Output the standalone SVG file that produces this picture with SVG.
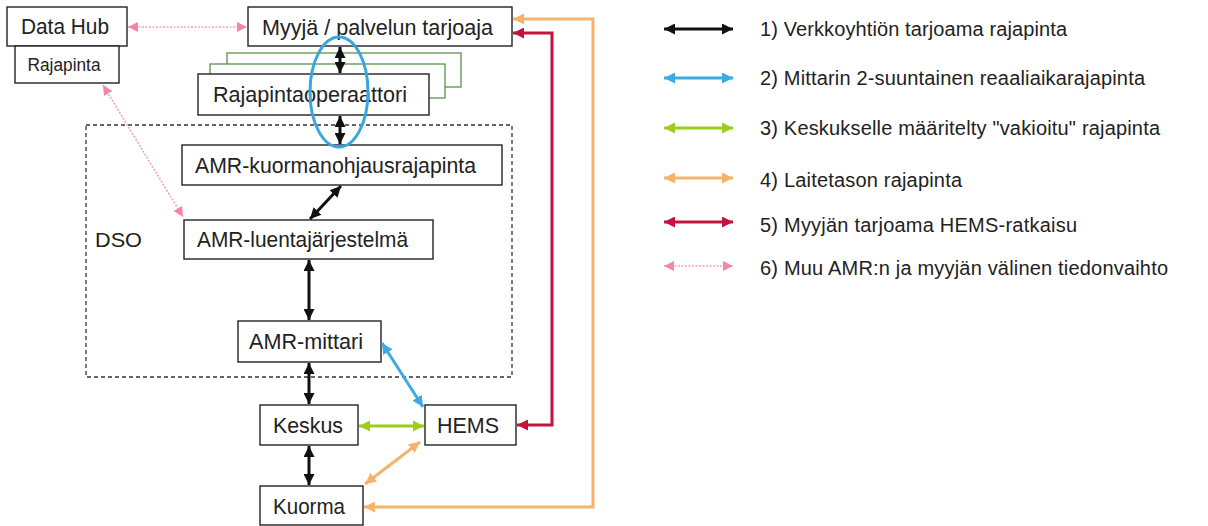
<svg xmlns="http://www.w3.org/2000/svg" width="1208" height="526" viewBox="0 0 1208 526">
<style>
.box{fill:#fff;stroke:#222;stroke-width:1.4}
.gbox{fill:#fff;stroke:#4b8a3c;stroke-width:1.2}
.t{font-family:"Liberation Sans",Arial,sans-serif;font-size:22px;fill:#222;text-anchor:middle}
.lt{font-family:"Liberation Sans",Arial,sans-serif;font-size:20px;fill:#222}
.c{fill:none;stroke-width:3}
.k{stroke:#111}
.b{stroke:#3fa9e2}
.g{stroke:#9ccc1c}
.o{stroke:#f6b36c}
.r{stroke:#c4123e}
.p{stroke:#f4a3b6;stroke-width:1.6;stroke-dasharray:2 1.5}
</style>
<defs>
<marker id="ak" viewBox="0 0 10 10" refX="10" refY="5" markerUnits="userSpaceOnUse" markerWidth="11" markerHeight="11" orient="auto-start-reverse"><path d="M0,0 L10,5 L0,10 z" fill="#111"/></marker>
<marker id="ab" viewBox="0 0 10 10" refX="10" refY="5" markerUnits="userSpaceOnUse" markerWidth="11" markerHeight="11" orient="auto-start-reverse"><path d="M0,0 L10,5 L0,10 z" fill="#3fa9e2"/></marker>
<marker id="ag" viewBox="0 0 10 10" refX="10" refY="5" markerUnits="userSpaceOnUse" markerWidth="11" markerHeight="11" orient="auto-start-reverse"><path d="M0,0 L10,5 L0,10 z" fill="#9ccc1c"/></marker>
<marker id="ao" viewBox="0 0 10 10" refX="10" refY="5" markerUnits="userSpaceOnUse" markerWidth="11" markerHeight="11" orient="auto-start-reverse"><path d="M0,0 L10,5 L0,10 z" fill="#f6b36c"/></marker>
<marker id="ar" viewBox="0 0 10 10" refX="10" refY="5" markerUnits="userSpaceOnUse" markerWidth="11" markerHeight="11" orient="auto-start-reverse"><path d="M0,0 L10,5 L0,10 z" fill="#c4123e"/></marker>
<marker id="ap" viewBox="0 0 10 10" refX="10" refY="5" markerUnits="userSpaceOnUse" markerWidth="10" markerHeight="10" orient="auto-start-reverse"><path d="M0,0 L10,5 L0,10 z" fill="#f3879f"/></marker>
</defs>

<g id="dso">
<rect x="86" y="125" width="426" height="252" fill="none" stroke="#333" stroke-width="1.3" stroke-dasharray="4 3"/>
<text class="lt" x="95" y="247" style="font-size:21px" textLength="47" lengthAdjust="spacingAndGlyphs">DSO</text>
</g>

<g id="datahub"><rect class="box" x="7" y="7" width="120" height="39"/><text class="t" x="65" y="34" textLength="88" lengthAdjust="spacingAndGlyphs">Data Hub</text></g>
<g id="rajapinta"><rect class="box" x="15" y="46" width="104" height="37"/><text class="t" x="64" y="71" style="font-size:17.5px" textLength="73" lengthAdjust="spacingAndGlyphs">Rajapinta</text></g>
<g id="myyja"><rect class="box" x="248" y="7" width="264" height="39"/><text class="t" x="377.5" y="34.5" textLength="231" lengthAdjust="spacingAndGlyphs">Myyjä / palvelun tarjoaja</text></g>
<g id="rajapintaoperaattori">
<rect class="gbox" x="227" y="53" width="234" height="34"/>
<rect class="gbox" x="210" y="64" width="235" height="34"/>
<rect class="box" x="198" y="74" width="231" height="41"/>
<text class="t" x="310" y="102" textLength="194" lengthAdjust="spacingAndGlyphs">Rajapintaoperaattori</text>
</g>
<g id="kuormanohjaus"><rect class="box" x="182" y="145" width="320" height="40"/><text class="t" x="335.5" y="172.5" textLength="281" lengthAdjust="spacingAndGlyphs">AMR-kuormanohjausrajapinta</text></g>
<g id="luenta"><rect class="box" x="184" y="220" width="249" height="39"/><text class="t" x="302.5" y="247" textLength="211" lengthAdjust="spacingAndGlyphs">AMR-luentajärjestelmä</text></g>
<g id="mittari"><rect class="box" x="238" y="321" width="143" height="41"/><text class="t" x="306" y="348.5" textLength="114" lengthAdjust="spacingAndGlyphs">AMR-mittari</text></g>
<g id="keskus"><rect class="box" x="260" y="405" width="98" height="40"/><text class="t" x="308" y="433" textLength="70" lengthAdjust="spacingAndGlyphs">Keskus</text></g>
<g id="hems"><rect class="box" x="425" y="405" width="91" height="40"/><text class="t" x="468" y="433" textLength="62" lengthAdjust="spacingAndGlyphs">HEMS</text></g>
<g id="kuorma"><rect class="box" x="260" y="486" width="103" height="39"/><text class="t" x="309" y="513.5" textLength="72" lengthAdjust="spacingAndGlyphs">Kuorma</text></g>

<ellipse id="highlight" cx="339" cy="92" rx="29" ry="55" fill="none" stroke="#3aa6df" stroke-width="3"/>

<g id="connectors">
<line class="c k" x1="340" y1="47" x2="340" y2="73" marker-start="url(#ak)" marker-end="url(#ak)"/>
<line class="c k" x1="340" y1="116" x2="340" y2="144" marker-start="url(#ak)" marker-end="url(#ak)"/>
<line class="c k" x1="341" y1="186" x2="310" y2="219" marker-start="url(#ak)" marker-end="url(#ak)"/>
<line class="c k" x1="309" y1="260" x2="309" y2="320" marker-start="url(#ak)" marker-end="url(#ak)"/>
<line class="c k" x1="309" y1="363" x2="309" y2="404" marker-start="url(#ak)" marker-end="url(#ak)"/>
<line class="c k" x1="309" y1="446" x2="309" y2="485" marker-start="url(#ak)" marker-end="url(#ak)"/>
<line class="c g" x1="359" y1="426" x2="424" y2="426" marker-start="url(#ag)" marker-end="url(#ag)"/>
<line class="c b" x1="382" y1="343" x2="423" y2="407" marker-start="url(#ab)" marker-end="url(#ab)"/>
<line class="c o" x1="365" y1="484" x2="420" y2="442" marker-start="url(#ao)" marker-end="url(#ao)"/>
<polyline class="c r" points="517,425 552,425 552,33 513,33" marker-start="url(#ar)" marker-end="url(#ar)"/>
<polyline class="c o" points="364,507 593,507 593,19 513,19" marker-start="url(#ao)" marker-end="url(#ao)"/>
<line class="c p" x1="128" y1="27" x2="247" y2="27" marker-start="url(#ap)" marker-end="url(#ap)"/>
<line class="c p" x1="103" y1="85" x2="183" y2="217" marker-start="url(#ap)" marker-end="url(#ap)"/>
</g>

<g id="legend">
<line class="c k" x1="664" y1="29" x2="733" y2="29" marker-start="url(#ak)" marker-end="url(#ak)"/>
<line class="c b" x1="664" y1="78" x2="733" y2="78" marker-start="url(#ab)" marker-end="url(#ab)"/>
<line class="c g" x1="664" y1="128" x2="733" y2="128" marker-start="url(#ag)" marker-end="url(#ag)"/>
<line class="c o" x1="664" y1="178" x2="733" y2="178" marker-start="url(#ao)" marker-end="url(#ao)"/>
<line class="c r" x1="664" y1="222" x2="733" y2="222" marker-start="url(#ar)" marker-end="url(#ar)"/>
<line class="c p" x1="664" y1="266" x2="733" y2="266" marker-start="url(#ap)" marker-end="url(#ap)"/>
<text class="lt" x="760" y="36" textLength="307" lengthAdjust="spacing">1) Verkkoyhtiön tarjoama rajapinta</text>
<text class="lt" x="760" y="85" textLength="385" lengthAdjust="spacing">2) Mittarin 2-suuntainen reaaliaikarajapinta</text>
<text class="lt" x="760" y="135" textLength="400" lengthAdjust="spacing">3) Keskukselle määritelty "vakioitu" rajapinta</text>
<text class="lt" x="760" y="187" textLength="202" lengthAdjust="spacing">4) Laitetason rajapinta</text>
<text class="lt" x="760" y="232" textLength="317" lengthAdjust="spacing">5) Myyjän tarjoama HEMS-ratkaisu</text>
<text class="lt" x="760" y="275" textLength="408" lengthAdjust="spacing">6) Muu AMR:n ja myyjän välinen tiedonvaihto</text>
</g>
</svg>
